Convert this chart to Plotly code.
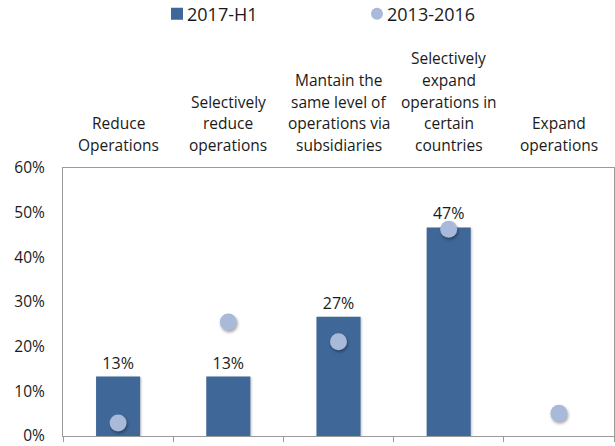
import plotly.graph_objects as go

# Survey shares by planned strategy
categories = [
    "Reduce Operations",
    "Selectively reduce operations",
    "Mantain the same level of operations via subsidiaries",
    "Selectively expand operations in certain countries",
    "Expand operations",
]
# Category headings, broken into lines as printed above the plot
category_lines = [
    ["Reduce", "Operations"],
    ["Selectively", "reduce", "operations"],
    ["Mantain the", "same level of", "operations via", "subsidiaries"],
    ["Selectively", "expand", "operations in", "certain", "countries"],
    ["Expand", "operations"],
]
share_2017_h1 = [13.3, 13.3, 26.7, 46.7, 0]
share_2013_2016 = [2.9, 25.5, 21.1, 46.3, 5.1]
y_ticks = [0, 10, 20, 30, 40, 50, 60]

BAR_COLOR = "#3F6899"
DOT_COLOR = "#A9B9D9"
TEXT_COLOR = "#1A1A1A"
LINE_COLOR = "#9A9A9A"
FONT = "Open Sans"

W, H = 615, 446
M_L, M_R, M_T, M_B = 63, 1, 168, 10
plot_h = H - M_T - M_B

fig = go.Figure()

fig.add_trace(go.Bar(
    x=categories,
    y=[v if v > 0 else None for v in share_2017_h1],
    name="2017-H1",
    marker=dict(color=BAR_COLOR, line=dict(width=0)),
    width=0.4,
    texttemplate="%{y:.0f}%",
    textposition="outside",
    textfont=dict(family=FONT, size=16, color=TEXT_COLOR),
    cliponaxis=False,
))

fig.add_trace(go.Scatter(
    x=categories,
    y=share_2013_2016,
    name="2013-2016",
    mode="markers",
    marker=dict(color=DOT_COLOR, size=17, line=dict(width=0)),
    cliponaxis=False,
))

# Multi-line category headings above the plot area, one annotation per line
line_step = 21.7
bottom_line_px = 145
annotations = []
for cat, lines in zip(categories, category_lines):
    n = len(lines)
    for i, txt in enumerate(lines):
        py = bottom_line_px - (n - 1 - i) * line_step
        annotations.append(dict(
            x=cat, xref="x",
            y=(H - M_B - py) / plot_h, yref="paper",
            text=txt, showarrow=False,
            xanchor="center", yanchor="middle",
            font=dict(family=FONT, size=15.5, color=TEXT_COLOR),
        ))

fig.update_layout(
    width=W, height=H,
    margin=dict(l=M_L, r=M_R, t=M_T, b=M_B),
    paper_bgcolor="white",
    plot_bgcolor="white",
    font=dict(family=FONT, color=TEXT_COLOR),
    showlegend=True,
    legend=dict(
        orientation="h",
        xref="container", yref="container",
        x=157 / W, xanchor="left",
        y=1 - 14 / H, yanchor="middle",
        font=dict(family=FONT, size=18, color=TEXT_COLOR),
        entrywidth=155, entrywidthmode="pixels",
        itemsizing="constant",
        traceorder="normal",
        bgcolor="rgba(0,0,0,0)",
    ),
    bargap=0.6,
    annotations=annotations,
    xaxis=dict(
        type="category",
        range=[-0.5, 4.5],
        showticklabels=False,
        showgrid=False,
        zeroline=False,
        showline=True, linecolor=LINE_COLOR, linewidth=1, mirror=True,
        ticks="outside", ticklen=5, tickcolor=LINE_COLOR, tickson="boundaries",
    ),
    yaxis=dict(
        range=[0, 60],
        tickvals=y_ticks,
        ticktext=[f"{v}%" for v in y_ticks],
        showgrid=False,
        zeroline=False,
        showline=True, linecolor=LINE_COLOR, linewidth=1, mirror=True,
        ticks="",
        ticklabelstandoff=14,
        ticklabeloverflow="allow",
        tickfont=dict(family=FONT, size=15.5, color=TEXT_COLOR),
    ),
)

# Soft drop shadows on markers and bars; legend text pulled closer to its symbol
post_js = """
(function(){
  function tweak(){
    document.querySelectorAll('.scatterlayer .point').forEach(function(p){
      p.style.filter = 'drop-shadow(1px 2px 1.5px rgba(0,0,0,0.35))';
    });
    document.querySelectorAll('.barlayer .point path').forEach(function(p){
      p.style.filter = 'drop-shadow(1px 1px 1px rgba(0,0,0,0.25))';
    });
    document.querySelectorAll('.legend .legendtext').forEach(function(t){
      t.setAttribute('x', '30');
    });
  }
  tweak();
  setTimeout(tweak, 50);
  setTimeout(tweak, 300);
})();
"""

fig.write_html("out.html", config={"displayModeBar": False}, post_script=post_js)
